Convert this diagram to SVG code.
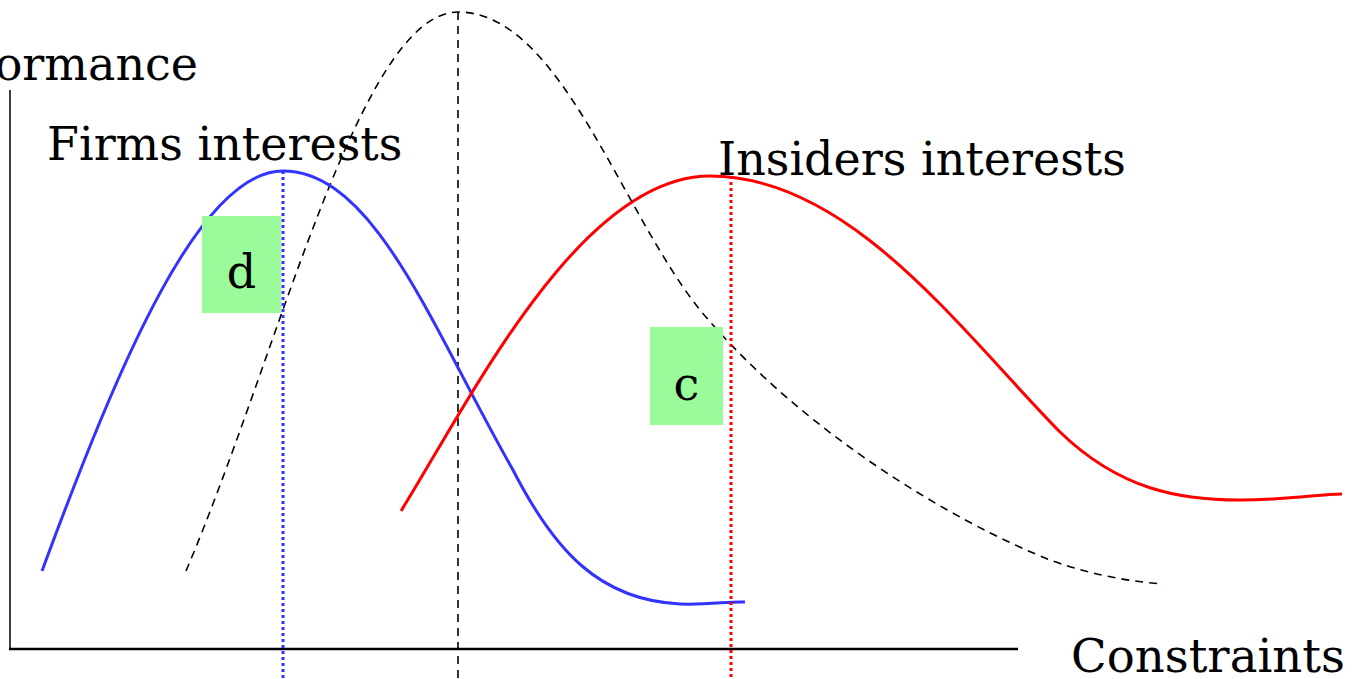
<svg xmlns="http://www.w3.org/2000/svg" width="1355" height="679" viewBox="0 0 1355 679">
<style>
.t{font-family:"DejaVu Serif","Liberation Serif",serif;font-size:46px;fill:#000}
.box{fill:#99fb99}
.dash{fill:none;stroke:#000;stroke-width:1.6;stroke-dasharray:8,6}
</style>
<rect width="1355" height="679" fill="#fff"/>
<g id="axes">
<line x1="10" y1="90" x2="10" y2="650" stroke="#000" stroke-width="1.5"/>
<line x1="9" y1="649" x2="1018" y2="649" stroke="#000" stroke-width="2.5"/>
<text class="t" x="198" y="80" text-anchor="end">Performance</text>
<text class="t" x="1071" y="672" textLength="274" lengthAdjust="spacingAndGlyphs">Constraints</text>
</g>
<g id="connectors">
<path class="dash" d="M186,571 C280,350 360,12 458,12 C560,12 620,210 700,310 C800,430 950,520 1050,560 C1100,578 1140,582 1163,584"/>
<line class="dash" x1="458" y1="12" x2="458" y2="679"/>
<path d="M42,571 C120,360 200,171 283,171 C375,171 433,330 513,470 C555,552 600,600 680,604 C710,605 730,601 745,602" fill="none" stroke="#3333ff" stroke-width="3"/>
<line x1="283" y1="171" x2="283" y2="679" stroke="#3333ff" stroke-width="3" stroke-dasharray="3,3"/>
<path d="M401,511 C470,400 580,176 710,176 C850,176 960,330 1060,432 C1120,490 1180,500 1240,500 C1290,500 1320,494 1342,494" fill="none" stroke="#ff0000" stroke-width="3"/>
<line x1="731" y1="176" x2="731" y2="679" stroke="#ff0000" stroke-width="3" stroke-dasharray="3,3"/>
</g>
<g id="firms">
<text class="t" x="47" y="160">Firms interests</text>
</g>
<g id="insiders">
<text class="t" x="718" y="175">Insiders interests</text>
</g>
<g id="d">
<rect class="box" x="202" y="216" width="79" height="97"/>
<text class="t" x="241.5" y="288" text-anchor="middle" font-size="60">d</text>
</g>
<g id="c">
<rect class="box" x="650" y="327" width="73" height="98"/>
<text class="t" x="686.5" y="400" text-anchor="middle" font-size="60">c</text>
</g>
</svg>
